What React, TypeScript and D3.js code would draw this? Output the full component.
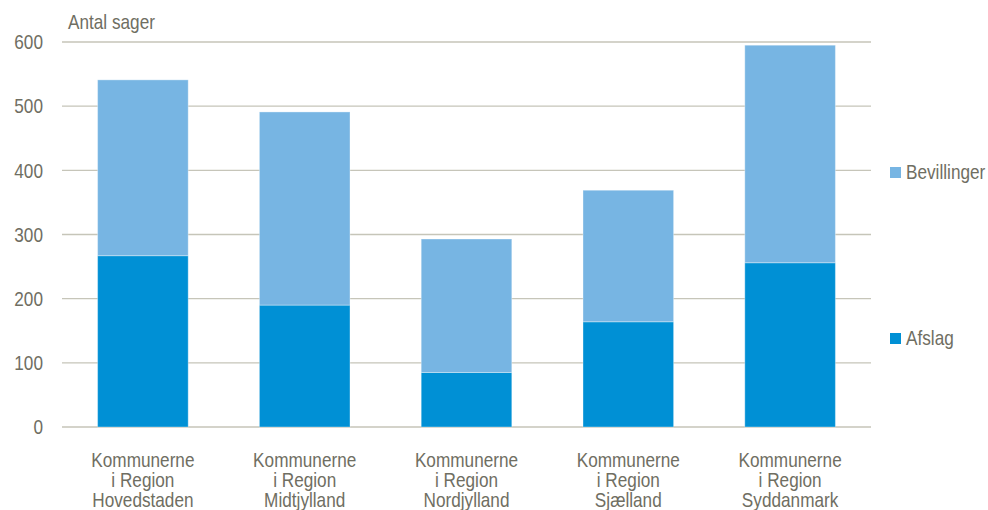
import React, { useEffect, useRef } from 'react';
import * as d3 from 'd3';

const regions = [
  ['Kommunerne', 'i Region', 'Hovedstaden'],
  ['Kommunerne', 'i Region', 'Midtjylland'],
  ['Kommunerne', 'i Region', 'Nordjylland'],
  ['Kommunerne', 'i Region', 'Sjælland'],
  ['Kommunerne', 'i Region', 'Syddanmark'],
];
const afslag = [267, 190, 85, 164, 256];
const bevillinger = [274, 301, 208, 205, 339];
const yTicks = [0, 100, 200, 300, 400, 500, 600];

const W = 988;
const H = 510;
const textColor = '#6f6e62';
const font = '"Liberation Sans", Arial, sans-serif';
const FS = 20;
const SX = 0.86; // source font is a bit condensed

const App = () => {
  const svgRef = useRef<SVGSVGElement>(null);

  useEffect(() => {
    const svg = d3.select(svgRef.current);
    svg.selectAll('*').remove();

    const x = d3.scaleBand<number>()
      .domain(d3.range(regions.length))
      .range([62, 871])
      .paddingInner(0.44)
      .paddingOuter(0.22);

    const y = d3.scaleLinear().domain([0, 600]).range([427, 42]);

    const place = (tx: number, ty: number) => `translate(${tx},${ty}) scale(${SX},1)`;

    // gridlines
    svg.append('g')
      .selectAll('line')
      .data(yTicks)
      .enter()
      .append('line')
      .attr('x1', 62)
      .attr('x2', 871)
      .attr('y1', d => y(d))
      .attr('y2', d => y(d))
      .attr('stroke', '#c6c5b9')
      .attr('stroke-width', 1.3);

    // y tick labels
    svg.append('g')
      .selectAll('text')
      .data(yTicks)
      .enter()
      .append('text')
      .attr('transform', d => place(43, y(d)))
      .attr('dy', '0.36em')
      .attr('text-anchor', 'end')
      .attr('fill', textColor)
      .style('font', `${FS}px ${font}`)
      .text(d => d);

    svg.append('text')
      .attr('transform', place(68, 29))
      .attr('fill', textColor)
      .style('font', `${FS}px ${font}`)
      .text('Antal sager');

    const stack = d3.stack<number>()
      .keys(['afslag', 'bevillinger'])
      .value((i, key) => (key === 'afslag' ? afslag[i] : bevillinger[i]));
    const series = stack(d3.range(regions.length));
    const colors = ['#0090d5', '#77b5e3'];

    series.forEach((s, si) => {
      svg.append('g')
        .selectAll('rect')
        .data(s)
        .enter()
        .append('rect')
        .attr('x', (d: any) => x(d.data)!)
        .attr('width', x.bandwidth())
        .attr('y', (d: any) => y(d[1]))
        .attr('height', (d: any) => y(d[0]) - y(d[1]))
        .attr('fill', colors[si])
        .attr('stroke', 'rgba(255,255,255,0.35)')
        .attr('stroke-width', 1);
    });

    // x labels
    const labels = svg.append('g')
      .selectAll('text')
      .data(regions)
      .enter()
      .append('text')
      .attr('text-anchor', 'middle')
      .attr('fill', textColor)
      .style('font', `${FS}px ${font}`)
      .attr('transform', (d, i) => place(x(i)! + x.bandwidth() / 2, 0));
    labels.selectAll('tspan')
      .data(d => d)
      .enter()
      .append('tspan')
      .attr('x', 0)
      .attr('y', (d, i) => 467 + i * 20)
      .text(d => d);

    // legend
    const legend = [
      { name: 'Bevillinger', color: colors[1], y: 172 },
      { name: 'Afslag', color: colors[0], y: 338 },
    ];
    const lg = svg.append('g')
      .selectAll('g')
      .data(legend)
      .enter()
      .append('g');
    lg.append('rect')
      .attr('x', 890)
      .attr('y', d => d.y - 5)
      .attr('width', 11)
      .attr('height', 11)
      .attr('fill', d => d.color);
    lg.append('text')
      .attr('transform', d => place(906, d.y))
      .attr('dy', '0.36em')
      .attr('fill', textColor)
      .style('font', `${FS}px ${font}`)
      .text(d => d.name);
  }, []);

  return (
    <svg
      ref={svgRef}
      width={W}
      height={H}
      style={{ position: 'absolute', left: 0, top: 0, background: '#fff' }}
    />
  );
};

export default App;
